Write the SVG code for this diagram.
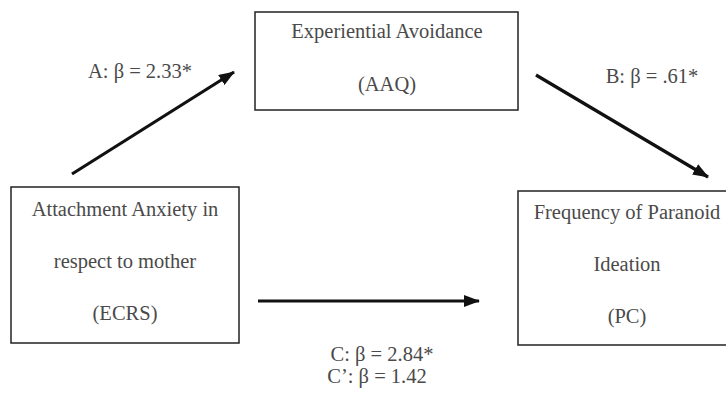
<svg xmlns="http://www.w3.org/2000/svg" width="726" height="396" viewBox="0 0 726 396">
<style>
.box{fill:#fff;stroke:#222;stroke-width:1.5}
.t{font-family:"Liberation Serif","Times New Roman",serif;font-size:20.5px;fill:#4a4a4a;text-anchor:middle}
.c{stroke:#111;stroke-width:3.2;fill:none}
</style>
<defs>
<marker id="ah" viewBox="0 0 16 12" refX="15" refY="6" markerWidth="16" markerHeight="12" markerUnits="userSpaceOnUse" orient="auto">
<path d="M0,0 L16,6 L0,12 z" fill="#111"/>
</marker>
</defs>
<rect width="726" height="396" fill="#fff"/>
<g id="node-aaq">
<rect class="box" x="255" y="12" width="263" height="98"/>
<text class="t" x="387" y="38">Experiential Avoidance</text>
<text class="t" x="387" y="91">(AAQ)</text>
</g>
<g id="node-ecrs">
<rect class="box" x="11" y="187" width="228" height="156"/>
<text class="t" x="125" y="216">Attachment Anxiety in</text>
<text class="t" x="125" y="268">respect to mother</text>
<text class="t" x="125" y="320">(ECRS)</text>
</g>
<g id="node-pc">
<rect class="box" x="518" y="191" width="230" height="154"/>
<text class="t" x="627" y="219">Frequency of Paranoid</text>
<text class="t" x="627" y="271">Ideation</text>
<text class="t" x="627" y="323">(PC)</text>
</g>
<g id="connectors">
<line class="c" x1="72" y1="174" x2="234" y2="72" marker-end="url(#ah)"/>
<line class="c" x1="536" y1="75" x2="708" y2="177" marker-end="url(#ah)"/>
<line class="c" x1="258" y1="301" x2="479" y2="301" stroke-width="4" marker-end="url(#ah)"/>
</g>
<g id="labels">
<text class="t" x="140" y="78">A: β = 2.33*</text>
<text class="t" x="652" y="83">B: β = .61*</text>
<text class="t" x="382" y="361">C: β = 2.84*</text>
<text class="t" x="377" y="383">C’: β = 1.42</text>
</g>
</svg>
